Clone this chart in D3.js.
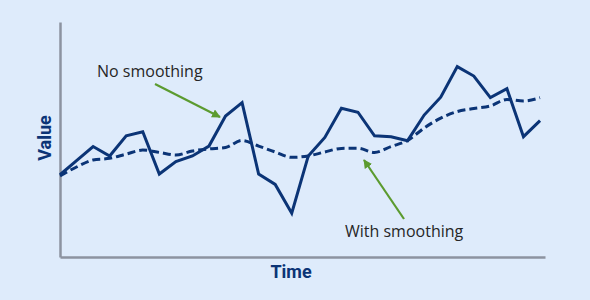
<!DOCTYPE html>
<html>
<head>
<meta charset="utf-8">
<script src="https://cdn.jsdelivr.net/npm/d3@7"></script>
<style>
  html, body { margin: 0; padding: 0; background: #deebfb; }
  svg { display: block; }
  .axis-line { stroke: #8c93a0; stroke-width: 2.5; }
  .axis-title { font-family: "Liberation Sans Narrow", "Roboto", sans-serif; font-weight: bold; fill: #0b3476; }
  .note { font-family: "Open Sans", "Noto Sans", sans-serif; fill: #262626; }
</style>
</head>
<body>
<div id="chart"></div>
<script>
// time steps (unitless) and the two series
const steps = d3.range(30);
const rawValues = [
  35, 41, 47, 43, 51.6, 53.3, 35.3, 40.6, 43, 47.2,
  60, 65.7, 35.3, 30.9, 18.6, 43, 50.9, 63.3, 61.6, 51.6,
  51.2, 49.5, 60.4, 68, 81, 77, 67.8, 71.6, 51.2, 58
];
const smoothValues = [
  34.5, 38.3, 41.3, 42, 43.8, 45.5, 44.5, 43.4, 45.1, 46,
  46.6, 49.6, 47.2, 44.7, 42.4, 43, 44.7, 46.2, 46.3, 44.5,
  47, 49.6, 54.9, 59.1, 61.9, 63.2, 64.3, 67, 66.4, 67.8
];
const labelX = 'Time', labelY = 'Value';
const notes = [
  { text: 'No smoothing',  x: 97,  y: 77,  from: [155, 84],  to: [220, 117] },
  { text: 'With smoothing', x: 345, y: 237, from: [404, 219], to: [364, 160] }
];

const width = 590, height = 300;
const margin = [22, 43, 60, 45]; // top, bottom, left, right

const svg = d3.select('#chart').append('svg')
  .attr('width', width)
  .attr('height', height);

svg.append('rect')
  .attr('width', width).attr('height', height)
  .attr('fill', '#deebfb');

const defs = svg.append('defs');
defs.append('marker')
  .attr('id', 'arrow')
  .attr('viewBox', '0 0 10 10')
  .attr('refX', 9).attr('refY', 5)
  .attr('markerWidth', 4).attr('markerHeight', 4)
  .attr('orient', 'auto')
  .append('path')
  .attr('d', 'M0,0L10,5L0,10Z')
  .attr('fill', '#5b9b2f');

const x0 = margin[2], x1 = width - margin[3];
const y0 = height - margin[1], y1 = margin[0];

const scaleX = d3.scaleLinear([0, 29.3], [x0, x1]);
const scaleY = d3.scaleLinear([0, 100], [y0, y1]);

// axes: plain lines, no ticks
const axisX = svg.append('g').attr('transform', `translate(0,${y0})`)
  .call(d3.axisBottom(scaleX).tickValues([]).tickSizeOuter(0));
axisX.select('.domain').attr('class', 'axis-line').attr('fill', 'none');

const axisY = svg.append('g').attr('transform', `translate(${x0},0)`)
  .call(d3.axisLeft(scaleY).tickValues([]).tickSizeOuter(0));
axisY.select('.domain').attr('class', 'axis-line').attr('fill', 'none');

const lineGen = d3.line()
  .curve(d3.curveLinear)
  .x((d, i) => scaleX(steps[i]))
  .y(d => scaleY(d));

const smoothGen = d3.line()
  .curve(d3.curveMonotoneX)
  .x((d, i) => scaleX(steps[i]))
  .y(d => scaleY(d));

svg.append('path')
  .datum(smoothValues)
  .attr('d', smoothGen)
  .attr('fill', 'none')
  .attr('stroke', '#0b3476')
  .attr('stroke-width', 3)
  .attr('stroke-dasharray', '8,4');

svg.append('path')
  .datum(rawValues)
  .attr('d', lineGen)
  .attr('fill', 'none')
  .attr('stroke', '#0b3476')
  .attr('stroke-width', 3)
  .attr('stroke-linejoin', 'miter');

// labels
svg.append('text')
  .attr('class', 'axis-title')
  .attr('x', 291)
  .attr('y', 278)
  .attr('text-anchor', 'middle')
  .style('font-size', '18px')
  .text(labelX);

svg.append('text')
  .attr('class', 'axis-title')
  .attr('transform', `translate(51,138)rotate(-90)`)
  .attr('text-anchor', 'middle')
  .style('font-size', '18px')
  .text(labelY);

// annotations
const g = svg.selectAll('g.note-g').data(notes).join('g').attr('class', 'note-g');
g.append('line')
  .attr('x1', d => d.from[0]).attr('y1', d => d.from[1])
  .attr('x2', d => d.to[0]).attr('y2', d => d.to[1])
  .attr('stroke', '#5b9b2f')
  .attr('stroke-width', 2.2)
  .attr('marker-end', 'url(#arrow)');
g.append('text')
  .attr('class', 'note')
  .attr('x', d => d.x).attr('y', d => d.y)
  .style('font-size', '16px')
  .text(d => d.text);
</script>
</body>
</html>
